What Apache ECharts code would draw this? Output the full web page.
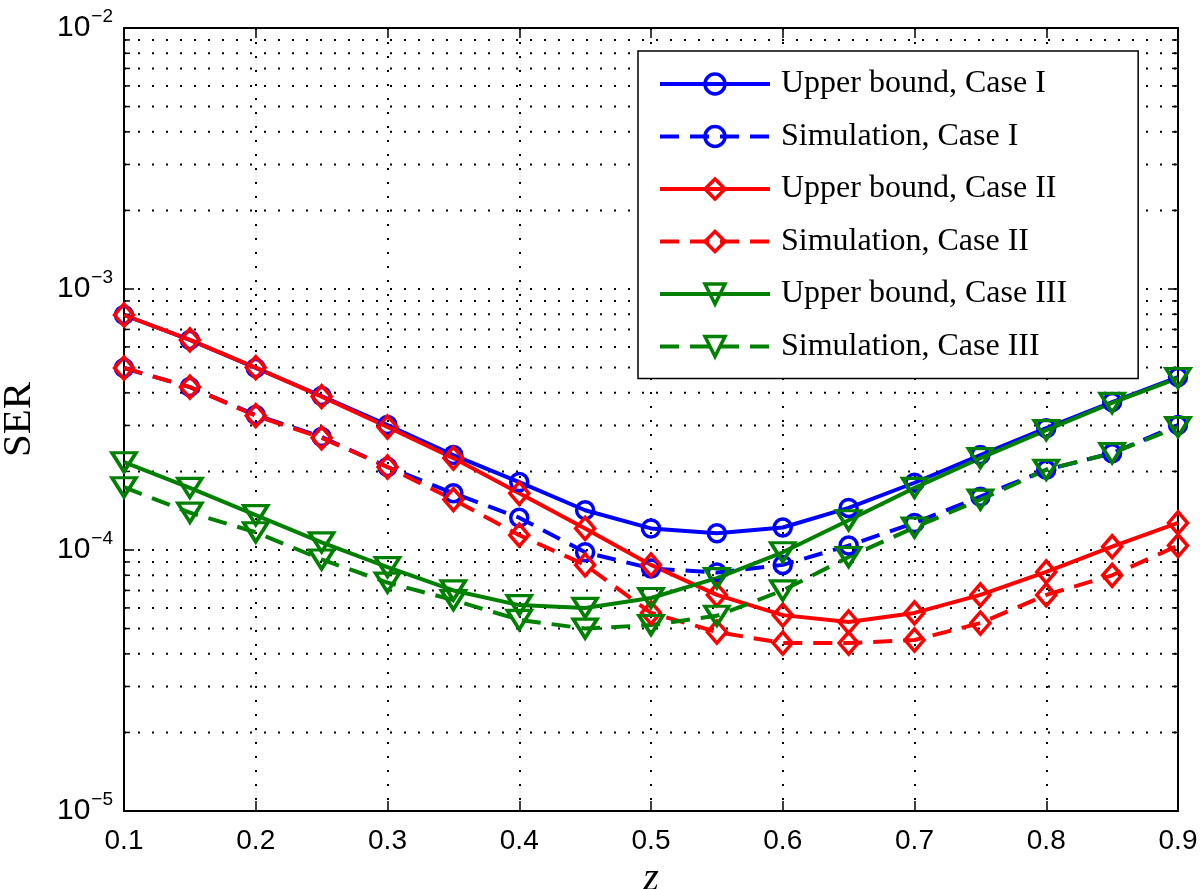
<!DOCTYPE html>
<html>
<head>
<meta charset="utf-8">
<script src="https://cdn.jsdelivr.net/npm/echarts@6/dist/echarts.min.js"></script>
<style>
  html, body { margin: 0; padding: 0; background: #fff; }
  #chart { width: 1200px; height: 889px; }
</style>
</head>
<body>
<div id="chart"></div>
<script>
// z values on the x axis
const zVals = [0.1, 0.15, 0.2, 0.25, 0.3, 0.35, 0.4, 0.45, 0.5, 0.55, 0.6, 0.65, 0.7, 0.75, 0.8, 0.85, 0.9]

// SER values
const ubCase1 = [7.95e-4, 6.38e-4, 4.98e-4, 3.89e-4, 3.01e-4, 2.31e-4, 1.82e-4, 1.42e-4, 1.21e-4, 1.16e-4, 1.22e-4, 1.45e-4, 1.81e-4, 2.31e-4, 2.93e-4, 3.69e-4, 4.6e-4]
const simCase1 = [4.98e-4, 4.21e-4, 3.29e-4, 2.71e-4, 2.08e-4, 1.65e-4, 1.33e-4, 9.8e-5, 8.5e-5, 8.2e-5, 8.77e-5, 1.04e-4, 1.27e-4, 1.6e-4, 2.03e-4, 2.35e-4, 3.01e-4]
const ubCase2 = [7.95e-4, 6.38e-4, 5.0e-4, 3.87e-4, 2.96e-4, 2.25e-4, 1.65e-4, 1.21e-4, 8.77e-5, 6.73e-5, 5.63e-5, 5.3e-5, 5.74e-5, 6.73e-5, 8.24e-5, 1.03e-4, 1.27e-4]
const simCase2 = [4.98e-4, 4.21e-4, 3.27e-4, 2.69e-4, 2.08e-4, 1.56e-4, 1.14e-4, 8.77e-5, 5.74e-5, 4.85e-5, 4.4e-5, 4.4e-5, 4.52e-5, 5.25e-5, 6.73e-5, 8.0e-5, 1.04e-4]
const ubCase3 = [2.17e-4, 1.73e-4, 1.36e-4, 1.07e-4, 8.6e-5, 7.0e-5, 6.15e-5, 6.0e-5, 6.55e-5, 7.8e-5, 9.8e-5, 1.3e-4, 1.73e-4, 2.25e-4, 2.88e-4, 3.66e-4, 4.56e-4]
const simCase3 = [1.74e-4, 1.39e-4, 1.17e-4, 9.2e-5, 7.5e-5, 6.43e-5, 5.4e-5, 5.0e-5, 5.16e-5, 5.6e-5, 7.0e-5, 9.4e-5, 1.22e-4, 1.56e-4, 2.03e-4, 2.35e-4, 2.96e-4]

// axis ranges and minor (2..9 x decade) grid values
const X_MIN = 0.1
const X_MAX = 0.9
const Y_MIN = 1e-5
const Y_MAX = 1e-2
const minorMult = [2, 3, 4, 5, 6, 7, 8, 9]
const decades = [1e-5, 1e-4, 1e-3]
const minorVals = decades.flatMap(d => minorMult.map(m => m * d))

const BLUE = '#0000ff'
const RED = '#ff0000'
const GREEN = '#008000'
const dotted = [2, 12]
const dashed = [19, 11]

const chart = echarts.init(document.getElementById('chart'))

function makeSeries(name, values, color, dash, symbol, size, rotate) {
  return {
    name: name,
    type: 'line',
    data: zVals.map((z, i) => [z, values[i]]),
    color: color,
    symbol: symbol,
    symbolSize: size,
    symbolRotate: rotate || 0,
    showAllSymbol: true,
    lineStyle: { color: color, width: 4, type: dash },
    itemStyle: { color: 'rgba(255,255,255,0)', borderColor: color, borderWidth: 3.5 },
    emphasis: { disabled: true },
    z: 3
  }
}

const tickFont = { fontFamily: 'Liberation Sans', fontSize: 28, color: '#000' }

const option = {
  animation: false,
  backgroundColor: '#fff',
  grid: { left: 124, right: 22, top: 28, bottom: 78, containLabel: false, outerBoundsMode: 'none' },
  legend: {
    orient: 'vertical',
    left: 638,
    top: 51,
    padding: [17, 71, 16, 20],
    itemGap: 20.5,
    itemWidth: 110,
    itemHeight: 25,
    backgroundColor: '#fff',
    borderColor: '#000',
    borderWidth: 1.5,
    lineStyle: { width: 4 },
    itemStyle: { borderWidth: 3.5 },
    textStyle: { fontFamily: 'Liberation Serif', fontSize: 32, color: '#000', padding: [0, 0, 0, 6] },
    data: ['Upper bound, Case I', 'Simulation, Case I', 'Upper bound, Case II',
           'Simulation, Case II', 'Upper bound, Case III', 'Simulation, Case III']
  },
  xAxis: [
    {
      type: 'value',
      min: X_MIN,
      max: X_MAX,
      interval: 0.1,
      name: 'z',
      nameLocation: 'middle',
      nameGap: 34,
      nameTextStyle: { fontFamily: 'Liberation Serif', fontStyle: 'italic', fontSize: 40, color: '#000' },
      axisLine: { lineStyle: { color: '#000', width: 2 } },
      axisTick: { inside: true, length: 10, lineStyle: { color: '#000', width: 1.5 } },
      axisLabel: Object.assign({ margin: 16, formatter: v => v.toFixed(1) }, tickFont),
      splitLine: { show: true, lineStyle: { color: '#000', width: 2, type: dotted } }
    },
    {
      type: 'value',
      position: 'top',
      min: X_MIN,
      max: X_MAX,
      interval: 0.1,
      axisLine: { lineStyle: { color: '#000', width: 2 } },
      axisTick: { inside: true, length: 10, lineStyle: { color: '#000', width: 1.5 } },
      axisLabel: { show: false },
      splitLine: { show: false }
    }
  ],
  yAxis: [
    {
      type: 'log',
      logBase: 10,
      min: Y_MIN,
      max: Y_MAX,
      name: 'SER',
      nameLocation: 'middle',
      nameGap: 84,
      nameRotate: 90,
      nameTextStyle: { fontFamily: 'Liberation Serif', fontSize: 41, color: '#000' },
      axisLine: { lineStyle: { color: '#000', width: 2 } },
      axisTick: { inside: true, length: 10, lineStyle: { color: '#000', width: 1.5 } },
      axisLabel: {
        margin: 11,
        formatter: v => '{b|10}{s|\u2212' + Math.abs(Math.round(Math.log10(v))) + '}',
        rich: {
          b: { fontFamily: 'Liberation Sans', fontSize: 30, color: '#000' },
          s: { fontFamily: 'Liberation Sans', fontSize: 19, color: '#000', padding: [0, 0, 22, 1] }
        }
      },
      splitLine: { show: true, lineStyle: { color: '#000', width: 2, type: dotted } }
    },
    {
      type: 'log',
      logBase: 10,
      position: 'right',
      min: Y_MIN,
      max: Y_MAX,
      axisLine: { lineStyle: { color: '#000', width: 2 } },
      axisTick: { inside: true, length: 10, lineStyle: { color: '#000', width: 1.5 } },
      axisLabel: { show: false },
      splitLine: { show: false }
    }
  ],
  series: [
    // minor grid lines + minor ticks on both y sides
    {
      type: 'custom',
      silent: true,
      z: 1,
      data: minorVals.map(v => [X_MIN, v]),
      renderItem: function (params, api) {
        const v = api.value(1)
        const p1 = api.coord([X_MIN, v])
        const p2 = api.coord([X_MAX, v])
        const tick = { stroke: '#000', lineWidth: 1.5 }
        return {
          type: 'group',
          children: [
            { type: 'line', shape: { x1: p1[0], y1: p1[1], x2: p2[0], y2: p2[1] },
              style: { stroke: '#000', lineWidth: 2, lineDash: dotted } },
            { type: 'line', shape: { x1: p1[0], y1: p1[1], x2: p1[0] + 6, y2: p1[1] }, style: tick },
            { type: 'line', shape: { x1: p2[0] - 6, y1: p2[1], x2: p2[0], y2: p2[1] }, style: tick }
          ]
        }
      }
    },
    makeSeries('Upper bound, Case I', ubCase1, BLUE, 'solid', 'circle', 17),
    makeSeries('Simulation, Case I', simCase1, BLUE, dashed, 'circle', 17),
    makeSeries('Upper bound, Case II', ubCase2, RED, 'solid', 'diamond', [19, 22]),
    makeSeries('Simulation, Case II', simCase2, RED, dashed, 'diamond', [19, 22]),
    makeSeries('Upper bound, Case III', ubCase3, GREEN, 'solid', 'triangle', [24, 19], 180),
    makeSeries('Simulation, Case III', simCase3, GREEN, dashed, 'triangle', [24, 19], 180)
  ]
}

chart.setOption(option)
</script>
</body>
</html>
